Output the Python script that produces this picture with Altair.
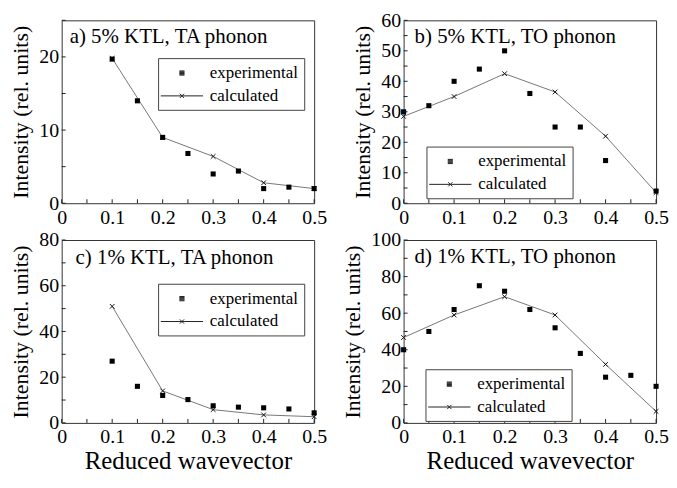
import altair as alt
import pandas as pd

FONT = "Liberation Serif"

# ---------------- data ----------------
# a) 5% KTL, TA phonon
a_exp_x = [0.1, 0.15, 0.2, 0.25, 0.3, 0.35, 0.4, 0.45, 0.5]
a_exp_y = [19.7, 14.0, 9.0, 6.8, 4.0, 4.4, 2.0, 2.2, 2.0]
a_calc_x = [0.1, 0.2, 0.3, 0.4, 0.5]
a_calc_y = [19.8, 9.0, 6.4, 2.8, 2.0]

# b) 5% KTL, TO phonon
b_exp_x = [0.0, 0.05, 0.1, 0.15, 0.2, 0.25, 0.3, 0.35, 0.4, 0.5]
b_exp_y = [30, 32, 40, 44, 50, 36, 25, 25, 14, 4]
b_calc_x = [0.0, 0.1, 0.2, 0.3, 0.4, 0.5]
b_calc_y = [28.5, 35, 42.5, 36.5, 22, 3.5]

# c) 1% KTL, TA phonon
c_exp_x = [0.1, 0.15, 0.2, 0.25, 0.3, 0.35, 0.4, 0.45, 0.5]
c_exp_y = [27, 16, 12, 10.2, 7.5, 6.9, 6.6, 6.1, 4.4]
c_calc_x = [0.1, 0.2, 0.3, 0.4, 0.5]
c_calc_y = [51, 14, 5.8, 3.5, 2.7]

# d) 1% KTL, TO phonon
d_exp_x = [0.0, 0.05, 0.1, 0.15, 0.2, 0.25, 0.3, 0.35, 0.4, 0.45, 0.5]
d_exp_y = [40, 50, 62, 75, 72, 62, 52, 38, 25, 26, 20]
d_calc_x = [0.0, 0.1, 0.2, 0.3, 0.4, 0.5]
d_calc_y = [46.7, 59, 69, 59, 32, 6.3]

panel_titles = ["a) 5% KTL, TA phonon", "b) 5% KTL, TO phonon",
                "c) 1% KTL, TA phonon", "d) 1% KTL, TO phonon"]
y_max = [25, 60, 80, 100]
y_label_values = [[0, 10, 20], [0, 10, 20, 30, 40, 50, 60],
                  [0, 20, 40, 60, 80], [0, 20, 40, 60, 80, 100]]
y_minor_step = [5, 5, 10, 10]
x_label_values = [0, 0.1, 0.2, 0.3, 0.4, 0.5]
x_tick_values = [0, 0.05, 0.1, 0.15, 0.2, 0.25, 0.3, 0.35, 0.4, 0.45, 0.5]
series_names = ["experimental", "calculated"]
x_title = "Reduced wavevector"
y_title = "Intensity (rel. units)"

W, H = 254, 184
X_PATH = "M-1,-1L1,1M-1,1L1,-1"
# legend glyphs (stroked paths): solid small square, and line with a cross
LEG_SQ = ("M-0.3,-0.25H0.3M-0.3,-0.15H0.3M-0.3,-0.05H0.3"
          "M-0.3,0.05H0.3M-0.3,0.15H0.3M-0.3,0.25H0.3")
LEG_LINE = "M-2.5,0H2.5M-0.25,-0.25L0.25,0.25M-0.25,0.25L0.25,-0.25"


def panel(i, ex, ey, cx, cy, show_xtitle, leg_x, leg_y, t_x, t_y):
    xscale = alt.Scale(domain=[0, 0.5], nice=False, zero=False)
    yscale = alt.Scale(domain=[0, y_max[i]], nice=False)
    xaxis = alt.Axis(values=x_label_values, format="~g", labelPadding=4,
                     titlePadding=2, title=x_title if show_xtitle else None,
                     labelFlush=False)
    yaxis = alt.Axis(values=y_label_values[i], format="d", labelPadding=3,
                     titlePadding=6, title=y_title)

    exp_df = pd.DataFrame({"x": ex, "y": ey})
    calc_df = pd.DataFrame({"x": cx, "y": cy})
    n = int(y_max[i] / y_minor_step[i]) + 1
    ytick_df = pd.DataFrame({"t": [k * y_minor_step[i] for k in range(n)]})
    xtick_df = pd.DataFrame({"t": x_tick_values})
    title_df = pd.DataFrame({"label": [panel_titles[i]]})
    leg_df = pd.DataFrame({"series": series_names})

    X = alt.X("x:Q", scale=xscale, axis=xaxis)
    Y = alt.Y("y:Q", scale=yscale, axis=yaxis)

    line = alt.Chart(calc_df).mark_line(color="#777", strokeWidth=1).encode(x=X, y=Y)
    calc_pts = alt.Chart(calc_df).mark_point(
        shape=X_PATH, filled=False, stroke="#111", strokeWidth=1, size=22, opacity=1
    ).encode(x=X, y=Y)
    exp_pts = alt.Chart(exp_df).mark_point(
        shape="square", filled=True, color="black", size=26, opacity=1
    ).encode(x=X, y=Y)
    xticks = alt.Chart(xtick_df).mark_rule(color="#222", strokeWidth=1).encode(
        x=alt.X("t:Q", scale=xscale, axis=xaxis),
        y=alt.value(H), y2=alt.value(H - 4),
    )
    yticks = alt.Chart(ytick_df).mark_rule(color="#222", strokeWidth=1).encode(
        y=alt.Y("t:Q", scale=yscale, axis=yaxis),
        x=alt.value(0), x2=alt.value(4),
    )
    ttl = alt.Chart(title_df).mark_text(
        align="left", baseline="alphabetic", font=FONT, fontSize=21, color="black"
    ).encode(x=alt.value(t_x), y=alt.value(t_y), text="label:N")
    legend = alt.Chart(leg_df).mark_point(opacity=0).encode(
        x=alt.value(0), y=alt.value(0),
        shape=alt.Shape(
            "series:N",
            scale=alt.Scale(domain=series_names, range=[LEG_SQ, LEG_LINE]),
            legend=alt.Legend(
                orient="none", legendX=leg_x, legendY=leg_y, title=None,
                labelFont=FONT, labelFontSize=17, labelColor="black",
                symbolSize=289, symbolStrokeColor="#222",
                symbolStrokeWidth=1, symbolOpacity=1, symbolOffset=9,
                labelOffset=19, rowPadding=6, padding=6,
                strokeColor="#444", fillColor="white",
            ),
        ),
    )
    return alt.layer(line, calc_pts, exp_pts, xticks, yticks, ttl, legend).properties(
        width=W, height=H
    )


pa = panel(0, a_exp_x, a_exp_y, a_calc_x, a_calc_y, False, 97, 38, 8, 23)
pb = panel(1, b_exp_x, b_exp_y, b_calc_x, b_calc_y, False, 23, 127, 11, 23)
pc = panel(2, c_exp_x, c_exp_y, c_calc_x, c_calc_y, True, 97, 44, 14, 24)
pd_ = panel(3, d_exp_x, d_exp_y, d_calc_x, d_calc_y, True, 22, 130, 11, 23)

chart = alt.concat(pa, pb, pc, pd_, columns=2, spacing={"row": 37, "column": 90},
                   bounds="flush").resolve_scale(
    shape="independent"
).resolve_legend(shape="independent").properties(
    padding={"left": 1, "top": 0, "right": 0, "bottom": 0},
    background="white",
).configure_view(stroke="#333", strokeWidth=1).configure_axis(
    domain=False, ticks=False, grid=False,
    labelFont=FONT, labelFontSize=20, labelColor="black",
    titleFont=FONT, titleFontSize=22, titleColor="black", titleFontWeight="normal",
).configure_axisBottom(titleFontSize=25)

chart.save("out.html", embed_options={"renderer": "svg", "actions": False})
